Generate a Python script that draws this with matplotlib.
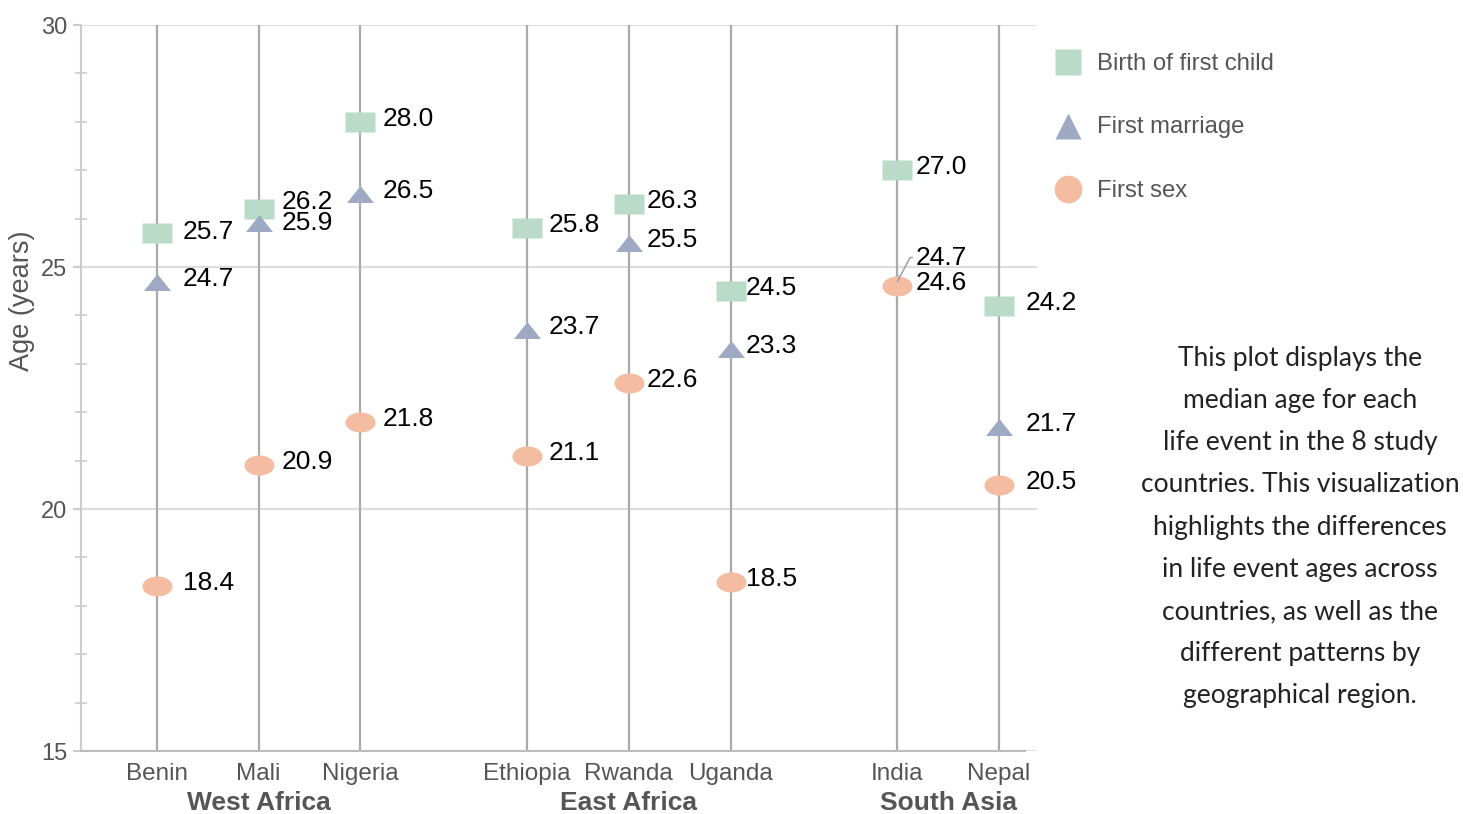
import matplotlib
matplotlib.use("Agg")
import matplotlib.pyplot as plt
import numpy as np
from matplotlib.path import Path
from matplotlib.lines import Line2D

plt.rcParams['font.family'] = ['Liberation Sans', 'DejaVu Sans']

# data
regions = ['West Africa', 'East Africa', 'South Asia']
countries = [['Benin', 'Mali', 'Nigeria'],
             ['Ethiopia', 'Rwanda', 'Uganda'],
             ['India', 'Nepal']]
first_child = [25.7, 26.2, 28.0, 25.8, 26.3, 24.5, 27.0, 24.2]
first_marriage = [24.7, 25.9, 26.5, 23.7, 25.5, 23.3, 24.7, 21.7]
first_sex = [18.4, 20.9, 21.8, 21.1, 22.6, 18.5, 24.6, 20.5]

series_names = ['Birth of first child', 'First marriage', 'First sex']
colors = ['#b9dbc8', '#9eaac4', '#f4bca0']

note = ("This plot displays the\nmedian age for each\nlife event in the 8 study\n"
        "countries. This visualization\nhighlights the differences\n"
        "in life event ages across\ncountries, as well as the\n"
        "different patterns by\ngeographical region.")

# x positions: 1 unit between countries, wider gap between regions
gap = 1.64
xs = []
group_centers = []
cur = 0.0
for g, names in enumerate(countries):
    start = cur
    for i in range(len(names)):
        xs.append(cur)
        cur += 1
    group_centers.append((start + cur - 1) / 2)
    cur += gap - 1
xs = np.array(xs)
flat_names = [c for names in countries for c in names]

# stretched markers (wider than tall)
t = np.linspace(0, 2 * np.pi, 60)
ellipse = Path(np.column_stack([np.cos(t), 0.667 * np.sin(t)]), closed=True)
rect = Path([(-1, -0.667), (1, -0.667), (1, 0.667), (-1, 0.667), (-1, -0.667)], closed=True)
tri = Path([(-1, -0.63), (1, -0.63), (0, 0.63), (-1, -0.63)], closed=True)

fig = plt.figure(figsize=(14.63, 8.14), dpi=100)
ax = fig.add_axes([81 / 1463, 1 - 751 / 814, 956 / 1463, 726 / 814])

ax.set_ylim(15, 30)
ax.set_xlim(-0.747, 8.653)

ax.vlines(xs, 15, 30, color='#aaaaaa', lw=1.6, zorder=1)

ax.plot(xs, first_child, linestyle='none', marker=rect, ms=21.6, color=colors[0], mec='none', zorder=3)
ax.plot(xs, first_marriage, linestyle='none', marker=tri, ms=19.4, color=colors[1], mec='none', zorder=3)
ax.plot(xs, first_sex, linestyle='none', marker=ellipse, ms=21.6, color=colors[2], mec='none', zorder=4)

# value labels
dx = [26, 23, 22, 21, 18, 15, 18, 27]
extra_dy = {(1, 0): 4, (1, 1): -3, (0, 0): -2}
for j, vals in enumerate([first_child, first_marriage, first_sex]):
    for i, v in enumerate(vals):
        if i == 6 and j == 1:
            continue
        ax.annotate(f'{v:.1f}', (xs[i], v), xytext=(dx[i], 3 + extra_dy.get((i, j), 0)),
                    textcoords='offset pixels', ha='left', va='center',
                    fontsize=19, color='black', zorder=6)

# India first marriage, hidden behind first sex marker
ax.annotate(f'{first_marriage[6]:.1f}', (xs[6], first_marriage[6]), xytext=(18, 24),
            textcoords='offset pixels', ha='left', va='center', fontsize=19, color='black',
            zorder=6,
            arrowprops=dict(arrowstyle='-', color='#999999', lw=1,
                            shrinkA=0, shrinkB=0, relpos=(0, 0.5),
                            connectionstyle='angle,angleA=0,angleB=62,rad=0'))

# axes styling
ax.set_yticks([15, 20, 25, 30])
ax.set_yticks(np.arange(15, 31, 1), minor=True)
ax.grid(axis='y', which='major', color='#dddddd', lw=1.5, zorder=0)
ax.set_axisbelow(True)
ax.tick_params(axis='y', which='major', length=6, width=1.5, color='#cccccc',
               labelsize=17, labelcolor='#555555', pad=4)
ax.tick_params(axis='y', which='minor', length=8, width=1.2, color='#cccccc', direction='inout')
ax.set_xticks(xs)
ax.set_xticklabels(flat_names)
ax.tick_params(axis='x', length=0, labelsize=17.5, labelcolor='#555555', pad=8.4)

for s in ['top', 'right']:
    ax.spines[s].set_visible(False)
ax.spines['left'].set_color('#cccccc')
ax.spines['left'].set_linewidth(1.5)
ax.spines['bottom'].set_color('#bbbbbb')
ax.spines['bottom'].set_linewidth(1.5)
ax.spines['bottom'].set_bounds(-0.747, 8.535)

ax.set_ylabel('Age (years)', fontsize=19.5, color='#555555')
ax.yaxis.set_label_coords(-0.048, 0.62)

for gc, r in zip(group_centers, regions):
    ax.text(gc, -0.072, r, transform=ax.get_xaxis_transform(), ha='center', va='center',
            fontsize=19, fontweight='bold', color='#555555')

# legend
leg_markers = ['s', '^', 'o']
leg_sizes = [19.4, 19.4, 20]
for k, (name, m, c) in enumerate(zip(series_names, leg_markers, colors)):
    yy = 1 - (62 + k * 63.5) / 814
    fig.add_artist(Line2D([1068 / 1463], [yy], marker=m, ms=leg_sizes[k], color=c, mec='none',
                          linestyle='none', transform=fig.transFigure))
    fig.text(1097 / 1463, yy - 2 / 814, name, ha='left', va='center', fontsize=17.2, color='#555555')

fig.text(1300 / 1463, 1 - 527 / 814, note, ha='center', va='center', fontsize=19,
         family=['Lato', 'DejaVu Sans'], color='#222222', linespacing=1.86)

fig.savefig('out.png', dpi=100)
